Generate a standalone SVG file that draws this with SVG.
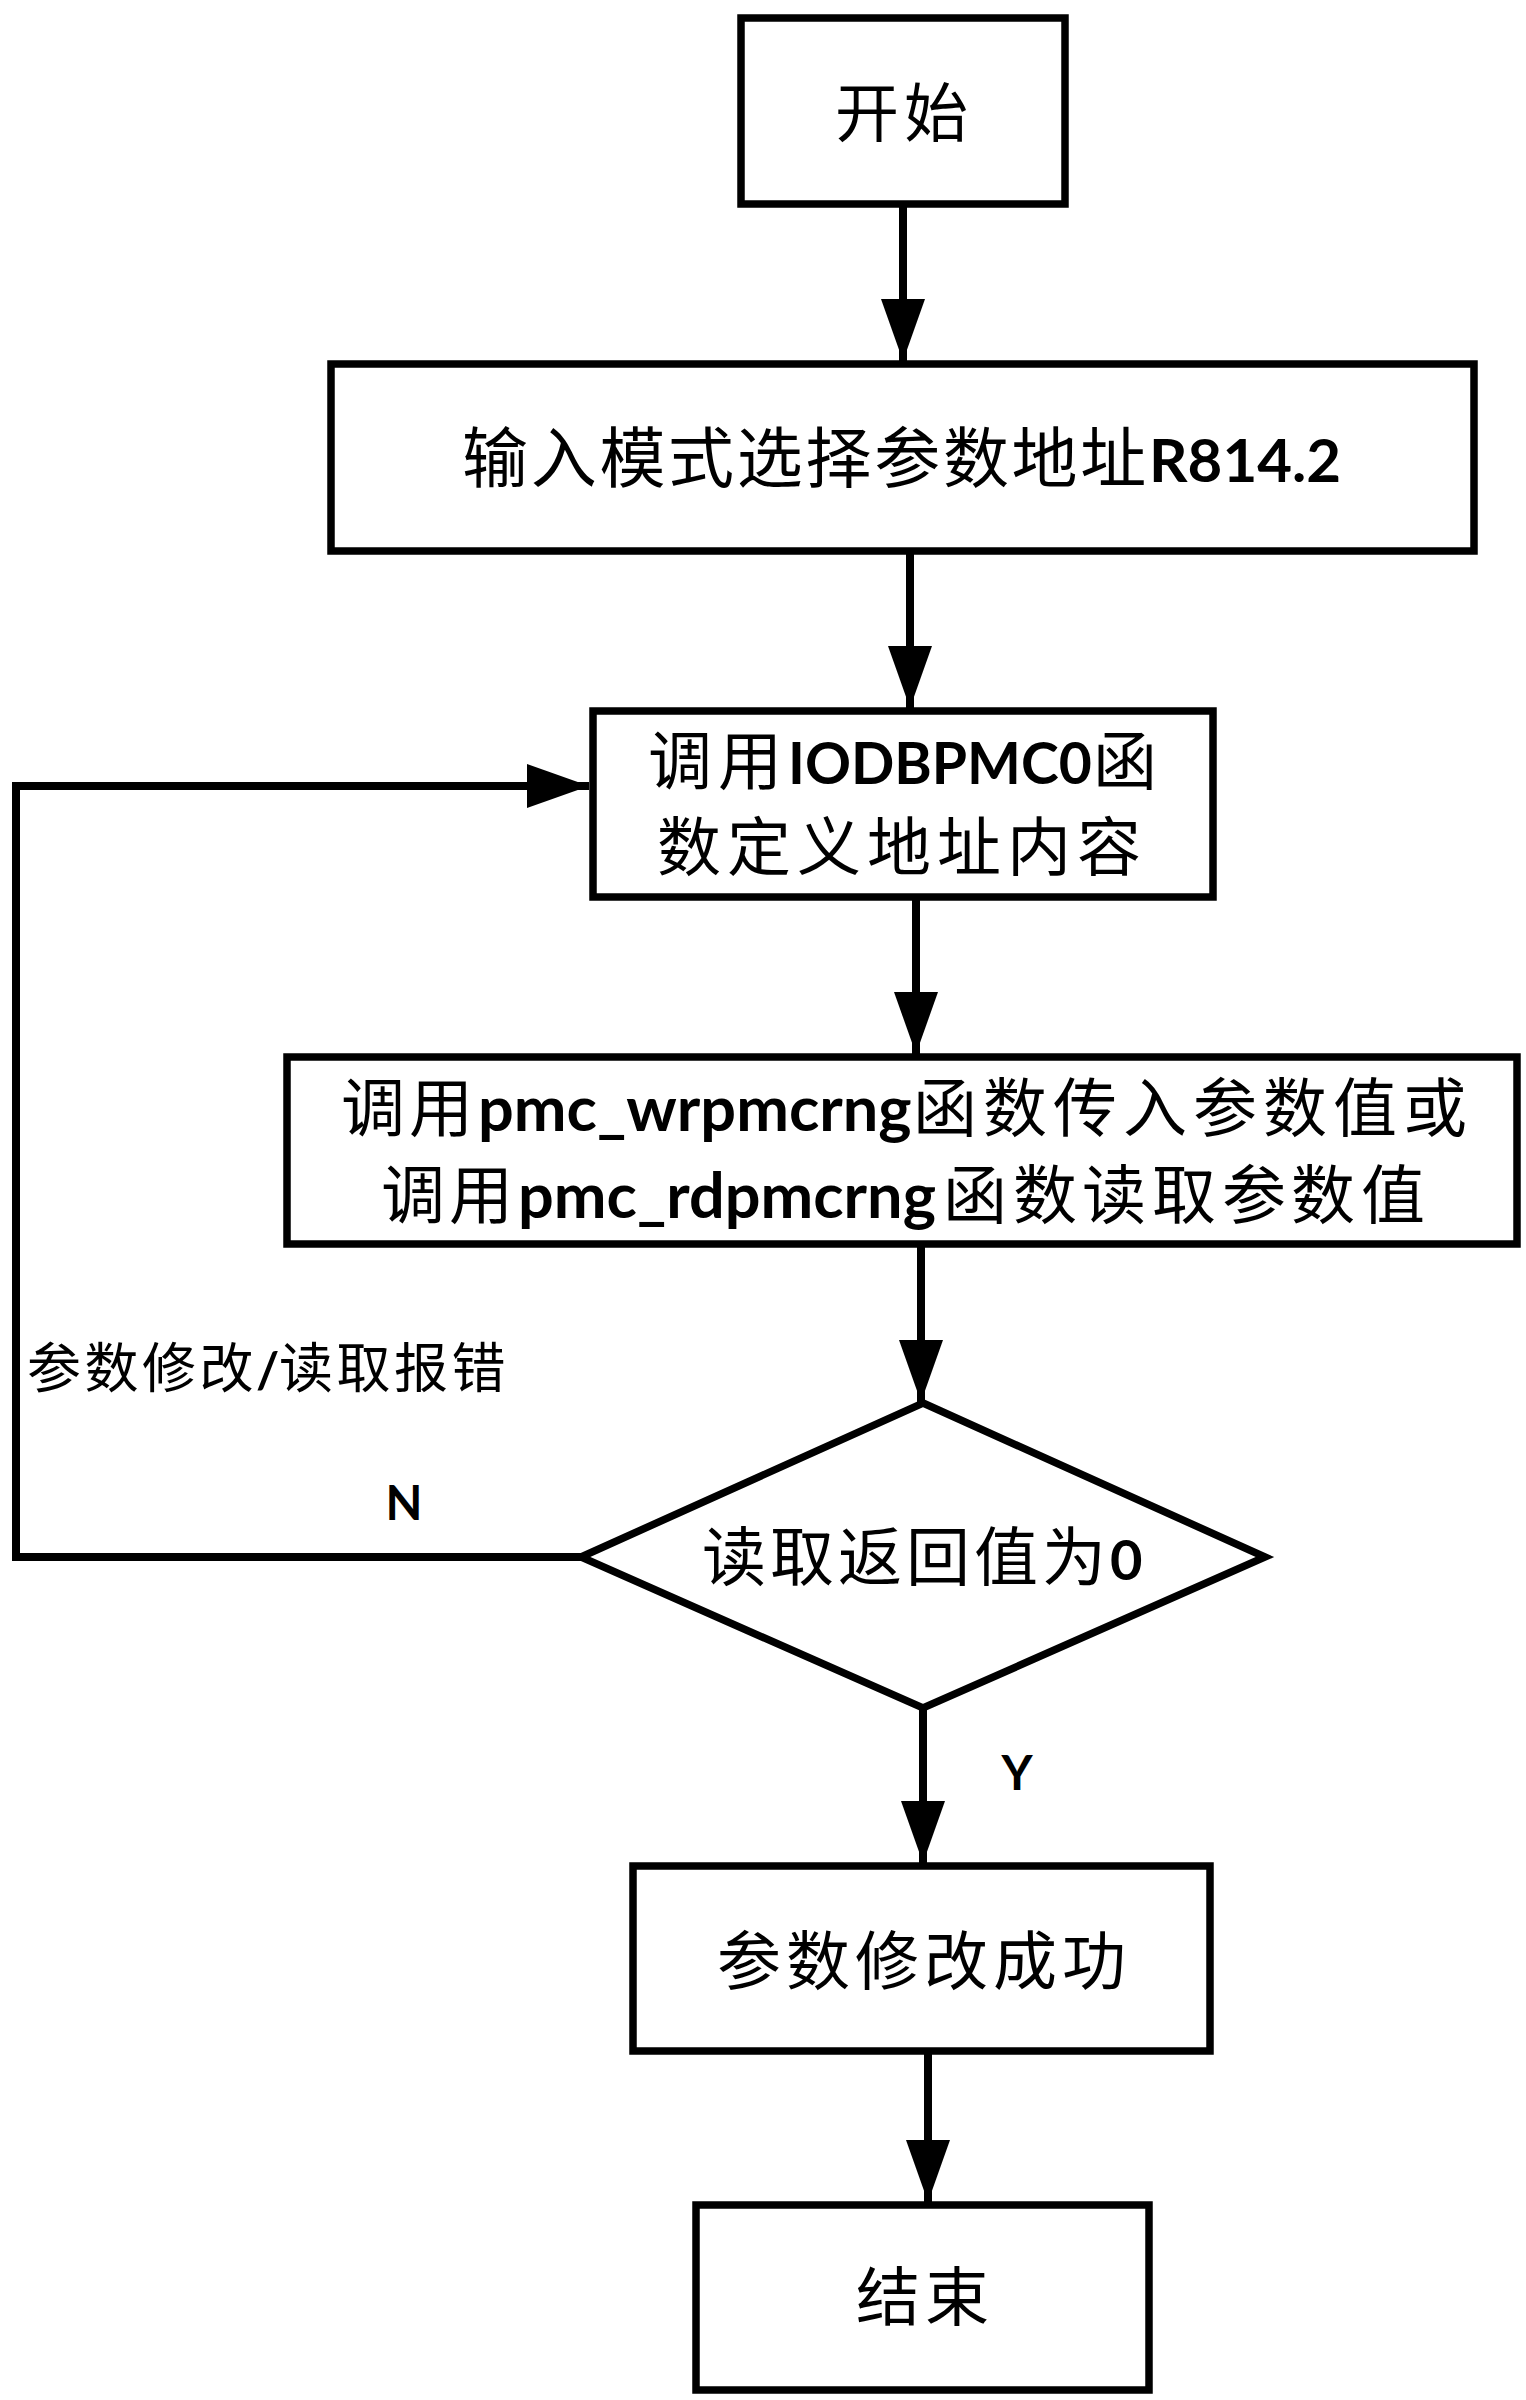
<svg xmlns="http://www.w3.org/2000/svg" width="1526" height="2400" viewBox="0 0 1526 2400">
<style>
.box{fill:#fff;stroke:#000;stroke-width:7.5}
.ln{fill:none;stroke:#000;stroke-width:8;stroke-linejoin:miter}
.cj{font-family:"Noto Sans CJK SC","Noto Sans CJK TC",sans-serif;font-size:64px;fill:#000}
.lt{font-family:Lato,"Liberation Sans",sans-serif;font-weight:bold}
</style>
<defs>
<marker id="ah" markerUnits="userSpaceOnUse" markerWidth="62" markerHeight="44" viewBox="0 0 62 44" refX="62" refY="22" orient="auto">
<path d="M0,0 L62,22 L0,44 z" fill="#000"/>
</marker>
</defs>
<rect width="1526" height="2400" fill="#fff"/>
<g id="connectors">
<line class="ln" x1="903" y1="204" x2="903" y2="361" marker-end="url(#ah)"/>
<line class="ln" x1="910" y1="551" x2="910" y2="708" marker-end="url(#ah)"/>
<line class="ln" x1="916" y1="897" x2="916" y2="1054" marker-end="url(#ah)"/>
<line class="ln" x1="921" y1="1244" x2="921" y2="1402" marker-end="url(#ah)"/>
<line class="ln" x1="923" y1="1708" x2="923" y2="1863" marker-end="url(#ah)"/>
<line class="ln" x1="928" y1="2051" x2="928" y2="2202" marker-end="url(#ah)"/>
<polyline class="ln" points="581,1557 16,1557 16,786 589,786" marker-end="url(#ah)"/>
<text class="cj" x="27 84.5 142 199.5" y="1388" style="font-size:54px">参数修改<tspan class="lt" x="256" style="font-size:50px">/</tspan><tspan x="279 336.5 394 451.5">读取报错</tspan></text>
<text class="lt" x="404" y="1520" text-anchor="middle" style="font-size:48px">N</text>
<text class="lt" x="1017" y="1790" text-anchor="middle" style="font-size:48px">Y</text>
</g>
<g id="start">
<rect class="box" x="741" y="18" width="324" height="186"/>
<text class="cj" x="835 904" y="136">开始</text>
</g>
<g id="input-mode">
<rect class="box" x="331" y="364" width="1143" height="187"/>
<text class="cj" x="462 530.7 599.4 668.1 736.8 805.5 874.2 942.9 1011.6 1080.3" y="482" style="font-size:66px">输入模式选择参数地址<tspan class="lt" x="1149" style="font-size:60px">R814.2</tspan></text>
</g>
<g id="iodbpmc">
<rect class="box" x="593" y="711" width="620" height="186"/>
<text class="cj" x="648 718" y="784">调用<tspan class="lt" x="788" style="font-size:57px">IODBPMC0</tspan><tspan x="1093">函</tspan></text>
<text class="cj" x="657 727 797 867 937 1007 1077" y="870">数定义地址内容</text>
</g>
<g id="pmc-call">
<rect class="box" x="287" y="1057" width="1230" height="187"/>
<text class="cj" x="341 409" y="1131">调用<tspan class="lt" x="478" style="font-size:63px">pmc_wrpmcrng</tspan><tspan x="913 983 1053 1123 1193 1263 1333 1403">函数传入参数值或</tspan></text>
<text class="cj" x="381 449" y="1218">调用<tspan class="lt" x="518" style="font-size:63px">pmc_rdpmcrng</tspan><tspan x="943 1013 1082 1152 1222 1291 1361">函数读取参数值</tspan></text>
</g>
<g id="decision">
<polygon class="box" points="923,1403 1265,1557 923,1708 581,1557"/>
<text class="cj" x="702 770 838 906 974 1042" y="1580">读取返回值为<tspan class="lt" x="1110" style="font-size:56px">0</tspan></text>
</g>
<g id="success">
<rect class="box" x="633" y="1866" width="577" height="185"/>
<text class="cj" x="717 786 855 924 993 1062" y="1984">参数修改成功</text>
</g>
<g id="end">
<rect class="box" x="696" y="2205" width="453" height="185"/>
<text class="cj" x="856 925" y="2320">结束</text>
</g>
</svg>
